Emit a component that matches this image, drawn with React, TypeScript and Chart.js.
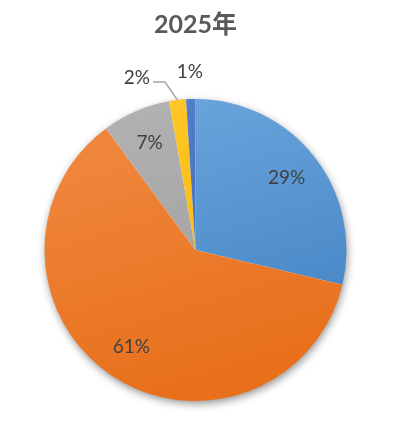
import React, { useEffect, useRef } from "react";
import { Chart, registerables } from "chart.js";

Chart.register(...registerables);

const titleText = "2025年";
const categories = ["A", "B", "C", "D", "E"];
const values = [28.7, 61.2, 7.3, 1.8, 1.0];
const valueLabels = ["29%", "61%", "7%", "2%", "1%"];
const topColors = ["#6FA8DF", "#F28B45", "#B4B4B4", "#FFC72C", "#5580CC"];
const bottomColors = ["#4384C4", "#E8701B", "#9C9C9C", "#F5B800", "#3D66B5"];

const FONT = "Lato, 'Noto Sans CJK SC', sans-serif";

const shadowPlugin = {
  id: "pieShadow",
  beforeDatasetsDraw(chart: any) {
    const meta = chart.getDatasetMeta(0);
    const arc = meta.data[0];
    if (!arc) return;
    const { x, y, outerRadius } = arc.getProps(["x", "y", "outerRadius"], true);
    const ctx = chart.ctx;
    ctx.save();
    ctx.shadowColor = "rgba(0,0,0,0.45)";
    ctx.shadowBlur = 9;
    ctx.shadowOffsetX = 1;
    ctx.shadowOffsetY = 3;
    ctx.fillStyle = "#ffffff";
    ctx.beginPath();
    ctx.arc(x, y, outerRadius - 0.5, 0, Math.PI * 2);
    ctx.fill();
    ctx.restore();
  },
};

const labelPlugin = {
  id: "pieLabels",
  afterDatasetsDraw(chart: any) {
    const ctx = chart.ctx;
    const meta = chart.getDatasetMeta(0);
    ctx.save();
    ctx.font = `19px ${FONT}`;
    ctx.fillStyle = "#404040";
    ctx.textBaseline = "middle";
    meta.data.forEach((arc: any, i: number) => {
      const p = arc.getProps(["x", "y", "startAngle", "endAngle", "outerRadius"], true);
      const mid = (p.startAngle + p.endAngle) / 2;
      const r = p.outerRadius;
      const share = values[i] / values.reduce((a, b) => a + b, 0);
      if (share > 0.05) {
        const d = r * 0.77;
        ctx.textAlign = "center";
        ctx.fillText(valueLabels[i], p.x + Math.cos(mid) * d, p.y + Math.sin(mid) * d);
      } else if (share > 0.015) {
        const sx = p.x + Math.cos(mid) * r;
        const sy = p.y + Math.sin(mid) * r;
        const ea = mid - 0.06;
        const ex = p.x + Math.cos(ea) * r * 1.13;
        const ey = p.y + Math.sin(ea) * r * 1.13;
        ctx.strokeStyle = "#A6A6A6";
        ctx.lineWidth = 1.5;
        ctx.beginPath();
        ctx.moveTo(sx, sy);
        ctx.lineTo(ex, ey);
        ctx.lineTo(ex - 12, ey);
        ctx.stroke();
        ctx.textAlign = "right";
        ctx.fillText(valueLabels[i], ex - 15, ey - 4);
      } else {
        const d = r * 1.18;
        ctx.textAlign = "center";
        ctx.fillText(valueLabels[i], p.x + Math.cos(mid) * d, p.y + Math.sin(mid) * d);
      }
    });
    ctx.restore();
  },
};

export default function App() {
  const canvasRef = useRef<HTMLCanvasElement | null>(null);

  useEffect(() => {
    const canvas = canvasRef.current;
    if (!canvas) return;
    const chart = new Chart(canvas, {
      type: "pie",
      data: {
        labels: categories,
        datasets: [
          {
            data: values,
            borderWidth: 0,
            backgroundColor: (c: any) => {
              const area = c.chart.chartArea;
              const i = c.dataIndex;
              if (!area) return topColors[i];
              const g = c.chart.ctx.createLinearGradient(area.left, area.top, area.left + area.width * 0.3, area.bottom);
              g.addColorStop(0, topColors[i]);
              g.addColorStop(1, bottomColors[i]);
              return g;
            },
          },
        ],
      },
      options: {
        responsive: false,
        animation: false,
        layout: { padding: { left: 44, right: 68, top: 8, bottom: 22 } },
        plugins: {
          legend: { display: false },
          tooltip: { enabled: false },
          title: {
            display: true,
            text: titleText,
            color: "#595959",
            font: { family: FONT, size: 25, weight: "bold", lineHeight: 1.2 },
            padding: { top: 2, bottom: 59 },
          },
        },
      },
      plugins: [shadowPlugin, labelPlugin],
    });
    return () => chart.destroy();
  }, []);

  return (
    <div style={{ position: "fixed", left: 0, top: 0, width: 415, height: 423, background: "#ffffff" }}>
      <canvas ref={canvasRef} width={415} height={423} style={{ display: "block" }} />
    </div>
  );
}
